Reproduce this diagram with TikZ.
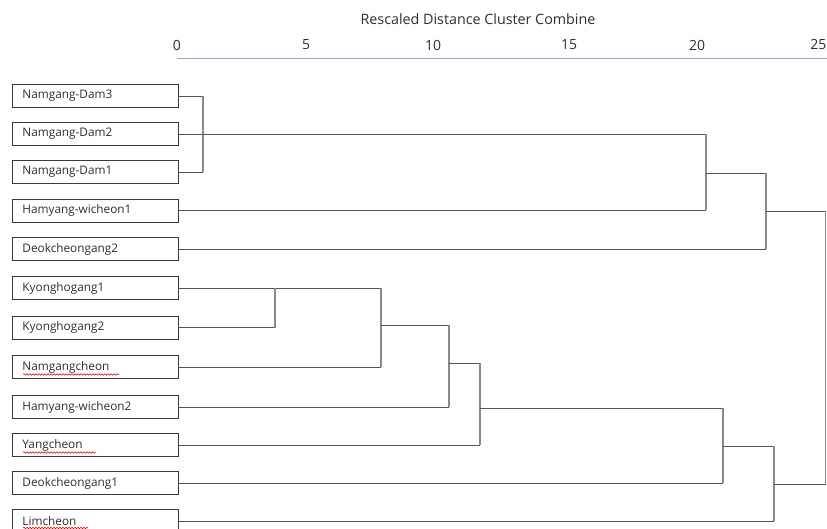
\documentclass[tikz,border=0pt]{standalone}
\usepackage{fontspec}
\setmainfont{Open Sans}
\usetikzlibrary{decorations.pathmorphing}
\definecolor{txt}{HTML}{2E2E2E}
\definecolor{boxc}{HTML}{3A3A3A}
\definecolor{vline}{HTML}{8A8A8A}
\definecolor{hline}{HTML}{555555}
\definecolor{axisc}{HTML}{98A8C8}
\tikzset{
  leaf/.style={draw=boxc, line width=0.9pt, text=txt, minimum height=23pt, text width=146pt,
     inner xsep=10pt, inner ysep=0pt, align=left, anchor=west, font=\fontsize{11.8}{14}\selectfont},
  hl/.style={draw=hline, line width=0.9pt},
  vl/.style={draw=vline, line width=1.1pt},
  tick/.style={text=txt, font=\fontsize{14}{16}\selectfont},
  spell/.style={draw=red!85!black, line width=0.5pt, decorate, decoration={snake, amplitude=0.8pt, segment length=3pt}}
}
\begin{document}
\begin{tikzpicture}[x=1pt,y=-1pt]
\useasboundingbox (0,0) rectangle (827,529);
\clip (0,0) rectangle (827,529);
% axis
\node[text=txt, font=\fontsize{14.3}{16}\selectfont] (title) at (478,19) {Rescaled Distance Cluster Combine};
\node[tick] (t0) at (177,45) {0};
\node[tick] (t5) at (306,45) {5};
\node[tick] (t10) at (433,45) {10};
\node[tick] (t15) at (569,45) {15};
\node[tick] (t20) at (697,45) {20};
\node[tick, anchor=east, inner xsep=0.5pt] (t25) at (827,45) {25};
\coordinate (axL) at (177,58.5);
\coordinate (axR) at (827,58.5);
\draw[axisc, line width=0.9pt] (axL) -- (axR);
% leaves
\node[leaf] (d3) at (12,96) {Namgang-Dam3};
\node[leaf] (d2) at (12,134) {Namgang-Dam2};
\node[leaf] (d1) at (12,172) {Namgang-Dam1};
\node[leaf] (h1) at (12,210.5) {Hamyang-wicheon1};
\node[leaf] (dk2) at (12,249) {Deokcheongang2};
\node[leaf] (k1) at (12,288) {Kyonghogang1};
\node[leaf] (k2) at (12,327.5) {Kyonghogang2};
\node[leaf] (nc) at (12,367) {Namgangcheon};
\node[leaf] (h2) at (12,407) {Hamyang-wicheon2};
\node[leaf] (yc) at (12,445) {Yangcheon};
\node[leaf] (dk1) at (12,483) {Deokcheongang1};
\node[leaf] (lc) at (12,521) {Limcheon};
% spell-check underlines
\coordinate (s1a) at (23,374.5); \coordinate (s1b) at (119,374.5);
\coordinate (s2a) at (23,452.5); \coordinate (s2b) at (96,452.5);
\coordinate (s3a) at (23,528); \coordinate (s3b) at (88,528);
\draw[spell] (s1a) -- (s1b);
\draw[spell] (s2a) -- (s2b);
\draw[spell] (s3a) -- (s3b);
% merge coordinates
\coordinate (m1a) at (203,96); \coordinate (m1b) at (203,172);
\coordinate (m2a) at (706,134); \coordinate (m2b) at (706,210.5); \coordinate (m2c) at (706,173);
\coordinate (m3a) at (766,173); \coordinate (m3b) at (766,249); \coordinate (m3c) at (766,211);
\coordinate (rta) at (825.5,211); \coordinate (rtb) at (825.5,484);
\coordinate (k12a) at (275,288); \coordinate (k12b) at (275,327.5);
\coordinate (m4a) at (381,288); \coordinate (m4b) at (381,367); \coordinate (m4c) at (381,325);
\coordinate (m5a) at (449,325); \coordinate (m5b) at (449,407); \coordinate (m5c) at (449,363);
\coordinate (m6a) at (480,363); \coordinate (m6b) at (480,445); \coordinate (m6c) at (480,408);
\coordinate (m7a) at (723,408); \coordinate (m7b) at (723,483); \coordinate (m7c) at (723,446);
\coordinate (m8a) at (774,446); \coordinate (m8b) at (774,521); \coordinate (m8c) at (774,484);
% top cluster
\draw[hl] (d3.east) -- (m1a);
\draw[hl] (d1.east) -- (m1b);
\draw[vl] (m1a) -- (m1b);
\draw[hl] (d2.east) -- (m2a);
\draw[hl] (h1.east) -- (m2b);
\draw[vl] (m2a) -- (m2b);
\draw[hl] (m2c) -- (m3a);
\draw[hl] (dk2.east) -- (m3b);
\draw[vl] (m3a) -- (m3b);
\draw[hl] (m3c) -- (rta);
% lower cluster
\draw[hl] (k1.east) -- (m4a);
\draw[hl] (k2.east) -- (k12b);
\draw[vl] (k12a) -- (k12b);
\draw[vl] (m4a) -- (m4b);
\draw[hl] (nc.east) -- (m4b);
\draw[hl] (m4c) -- (m5a);
\draw[vl] (m5a) -- (m5b);
\draw[hl] (h2.east) -- (m5b);
\draw[hl] (m5c) -- (m6a);
\draw[vl] (m6a) -- (m6b);
\draw[hl] (yc.east) -- (m6b);
\draw[hl] (m6c) -- (m7a);
\draw[vl] (m7a) -- (m7b);
\draw[hl] (dk1.east) -- (m7b);
\draw[hl] (m7c) -- (m8a);
\draw[vl] (m8a) -- (m8b);
\draw[hl] (lc.east) -- (m8b);
\draw[hl] (m8c) -- (rtb);
\draw[vl] (rta) -- (rtb);
\end{tikzpicture}
\end{document}
